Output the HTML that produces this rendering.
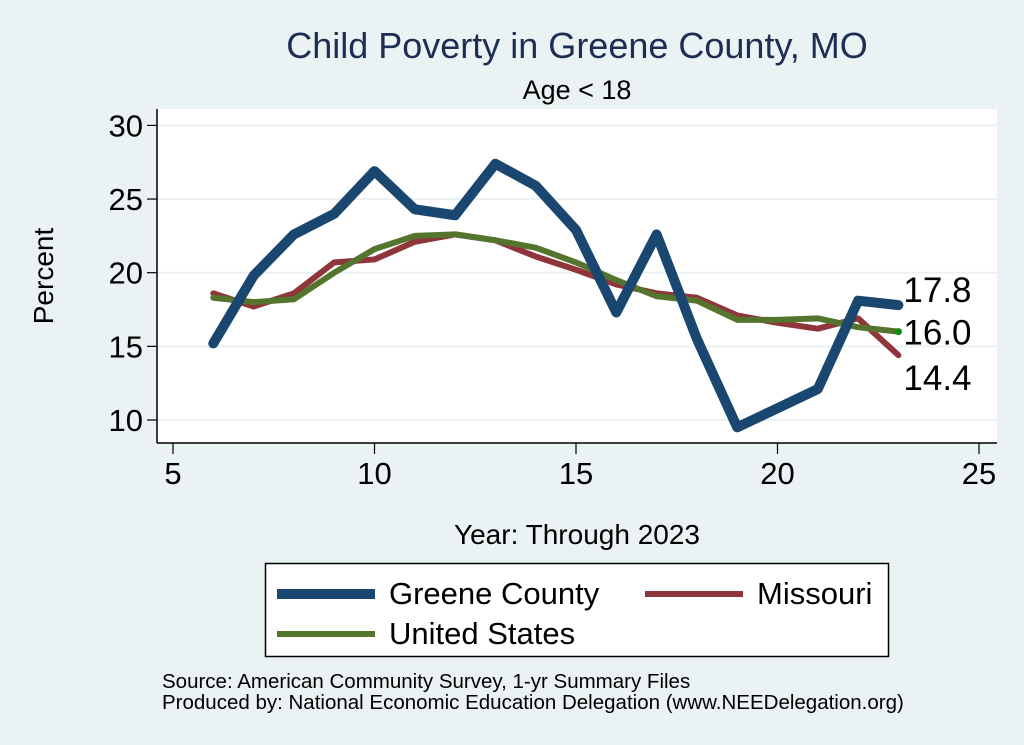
<!DOCTYPE html>
<html><head><meta charset="utf-8"><style>
body{margin:0;background:#eaf2f3;font-family:"Liberation Sans",sans-serif;}
svg{display:block}
</style></head><body>
<svg width="1024" height="745" xmlns="http://www.w3.org/2000/svg" id="chart">
<rect width="1024" height="745" fill="#eaf2f3"/>
<text x="577" y="58" font-size="36" fill="#1e2d53" text-anchor="middle">Child Poverty in Greene County, MO</text>
<text x="577" y="99" font-size="27" fill="#000" text-anchor="middle">Age &lt; 18</text>
<rect x="157" y="109" width="840" height="334" fill="#fff"/>
<g id="grid"></g>
<g id="axes"></g>
<g id="series"></g>
<g id="labels"></g>
<text x="53" y="276" font-size="28" text-anchor="middle" transform="rotate(-90 53 276)">Percent</text>
<text x="577" y="544" font-size="28" text-anchor="middle">Year: Through 2023</text>
<g>
<rect x="265.5" y="563.5" width="623" height="93" fill="#fff" stroke="#000" stroke-width="1.5"/>
<g><line x1="277" y1="594" x2="375" y2="594" stroke="#1a476f" stroke-width="10"/><text x="389" y="604" font-size="31">Greene County</text></g>
<g><line x1="645" y1="594" x2="743" y2="594" stroke="#90353b" stroke-width="6"/><text x="757" y="604" font-size="31">Missouri</text></g>
<g><line x1="277" y1="634" x2="375" y2="634" stroke="#55752f" stroke-width="6"/><text x="389" y="644" font-size="31">United States</text></g>
</g>
<text x="162" y="688" font-size="20.5">Source: American Community Survey, 1-yr Summary Files</text>
<text x="162" y="709" font-size="20.5">Produced by: National Economic Education Delegation (www.NEEDelegation.org)</text>
</svg>
<script>
const years=[6,7,8,9,10,11,12,13,14,15,16,17,18,19,20,21,22,23];
const greene=[15.2,19.8,22.6,24.0,26.9,24.3,23.9,27.4,25.9,22.9,17.3,22.6,15.5,9.5,10.8,12.1,18.1,17.8];
const missouri=[18.6,17.7,18.6,20.7,20.9,22.1,22.6,22.2,21.1,20.2,19.2,18.6,18.3,17.1,16.6,16.2,16.9,14.4];
const us=[18.3,18.0,18.2,20.0,21.6,22.5,22.6,22.2,21.7,20.7,19.5,18.4,18.1,16.8,16.8,16.9,16.3,16.0];
const xTicks=[5,10,15,20,25];
const yTicks=[10,15,20,25,30];
const NS="http://www.w3.org/2000/svg";
function X(v){return 173+(v-5)*40.3;}
function Y(v){return 420-(v-10)*14.73;}
function mk(t,a,p){const e=document.createElementNS(NS,t);for(const k in a)e.setAttribute(k,a[k]);p.appendChild(e);return e;}
const grid=document.getElementById('grid'),axes=document.getElementById('axes'),ser=document.getElementById('series'),lab=document.getElementById('labels');
yTicks.forEach(v=>{
 const g=mk('line',{x1:157,x2:997,y1:Y(v),y2:Y(v),stroke:'#eaf2f3','stroke-width':2},grid);
 
 
 const t=mk('line',{x1:147,x2:157,y1:Y(v),y2:Y(v),stroke:'#000','stroke-width':1.2},axes);
 
 
 const l=mk('text',{x:143,y:Y(v)+11,'font-size':31,'text-anchor':'end'},axes);l.textContent=v;
 
 
});
mk('line',{x1:157,x2:157,y1:109,y2:443,stroke:'#000','stroke-width':1.5},axes);
mk('line',{x1:157,x2:997,y1:443,y2:443,stroke:'#000','stroke-width':1.5},axes);
xTicks.forEach(v=>{
 const t=mk('line',{x1:X(v),x2:X(v),y1:443,y2:454,stroke:'#000','stroke-width':1.2},axes);
 
 
 const l=mk('text',{x:X(v),y:484,'font-size':31,'text-anchor':'middle'},axes);l.textContent=v;
 
 
});
function line(data,color,w,name){
 const p=mk('polyline',{points:years.map((y,i)=>X(y)+','+Y(data[i])).join(' '),fill:'none',stroke:color,'stroke-width':w,'stroke-linejoin':'round','stroke-linecap':'round'},ser);
 
 
}
line(missouri,'#90353b',6,'missouri-line');
line(us,'#55752f',6,'us-line');
line(greene,'#1a476f',10,'greene-line');
const last=years.length-1;
mk('circle',{cx:X(years[last]),cy:Y(us[last]),r:3.5,fill:'#0a8a0a'},ser);
const endLabels=[[greene[last],-15],[us[last],1],[missouri[last],23]];
endLabels.forEach(([v,off],i)=>{
 const t=mk('text',{x:X(years[last])+5,y:Y(v)+off+12,'font-size':35},lab);t.textContent=v.toFixed(1);
 
 
});
</script>
</body></html>
